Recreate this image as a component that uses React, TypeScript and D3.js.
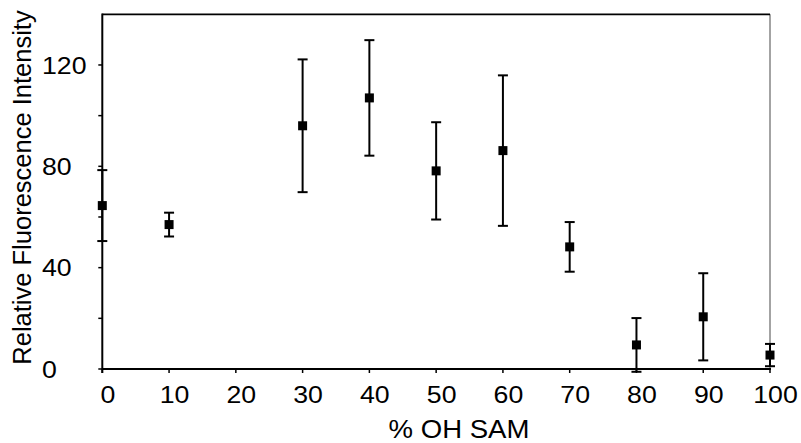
import React, { useRef, useEffect } from 'react';
import * as d3 from 'd3';

// % OH SAM values with mean fluorescence and error (half-width)
const ohPercent = [0, 10, 30, 40, 50, 60, 70, 80, 90, 100];
const intensity = [64.5, 57, 96, 107, 78.2, 86.2, 48.2, 9.5, 20.6, 5.5];
const errorBar = [14, 4.7, 26.2, 22.8, 19.2, 29.7, 9.8, 10.6, 17.2, 4.4];

const xTicks = [0, 10, 20, 30, 40, 50, 60, 70, 80, 90, 100];
const yMajorTicks = [0, 40, 80, 120];
const yMinorTicks = [20, 60, 100];

const width = 801;
const height = 443;
const margin = { top: 14.3, right: 31, bottom: 74, left: 102.3 };
const font = '"Liberation Sans", Arial, sans-serif';
// the source text is a little wider than plain Arial
const stretch = 1.09;

export default function App() {
    const svgRef = useRef<SVGSVGElement>(null);

    useEffect(() => {
        const svg = d3.select(svgRef.current);
        svg.selectAll('*').remove();

        const x = d3.scaleLinear()
            .domain([0, 100])
            .range([margin.left, width - margin.right]);

        const y = d3.scaleLinear()
            .domain([0, 140])
            .range([height - margin.bottom, margin.top]);

        const x0 = x(0), x1 = x(100), y0 = y(0), y1 = y(140);

        // y ticks (outside, on the left)
        svg.append('g')
            .selectAll('line')
            .data([...yMajorTicks, ...yMinorTicks])
            .join('line')
            .attr('x1', x0 - 4)
            .attr('x2', x0)
            .attr('y1', d => y(d))
            .attr('y2', d => y(d))
            .attr('stroke', 'black')
            .attr('stroke-width', 1.5);

        // x ticks (below the axis)
        svg.append('g')
            .selectAll('line')
            .data(xTicks)
            .join('line')
            .attr('x1', d => x(d))
            .attr('x2', d => x(d))
            .attr('y1', y0)
            .attr('y2', y0 + 4)
            .attr('stroke', 'black')
            .attr('stroke-width', 1.5);

        // frame: right side is gray, the rest black
        svg.append('line')
            .attr('x1', x1).attr('x2', x1)
            .attr('y1', y1).attr('y2', y0)
            .attr('stroke', '#8c8c8c').attr('stroke-width', 1.6);
        svg.append('line')
            .attr('x1', x0).attr('x2', x1)
            .attr('y1', y1).attr('y2', y1)
            .attr('stroke', 'black').attr('stroke-width', 1.8);
        svg.append('line')
            .attr('x1', x0).attr('x2', x0)
            .attr('y1', y1 - 0.9).attr('y2', y0 + 4)
            .attr('stroke', 'black').attr('stroke-width', 2);
        svg.append('line')
            .attr('x1', x0).attr('x2', x1 + 1)
            .attr('y1', y0).attr('y2', y0)
            .attr('stroke', 'black').attr('stroke-width', 2);

        // tick labels
        svg.append('g')
            .selectAll('text')
            .data(yMajorTicks)
            .join('text')
            .attr('transform', d => `translate(42,${y(d) + 8.8}) scale(${stretch},1)`)
            .attr('font-family', font)
            .attr('font-size', 24.5)
            .attr('fill', 'black')
            .text(d => d);

        svg.append('g')
            .selectAll('text')
            .data(xTicks)
            .join('text')
            .attr('transform', d => `translate(${x(d) + 5.5},403) scale(${stretch},1)`)
            .attr('text-anchor', 'middle')
            .attr('font-family', font)
            .attr('font-size', 24.5)
            .attr('fill', 'black')
            .text(d => d);

        // axis titles
        svg.append('text')
            .attr('transform', `translate(459,437.5) scale(1.06,1)`)
            .attr('text-anchor', 'middle')
            .attr('font-family', font)
            .attr('font-size', 26)
            .attr('fill', 'black')
            .text('% OH SAM');

        svg.append('text')
            .attr('transform', 'translate(31,187.5) rotate(-90)')
            .attr('text-anchor', 'middle')
            .attr('font-family', font)
            .attr('font-size', 25.5)
            .attr('fill', 'black')
            .text('Relative Fluorescence Intensity');

        const points = ohPercent.map((p, i) => ({ p, v: intensity[i], e: errorBar[i] }));

        // error bars
        const bars = svg.append('g')
            .attr('stroke', 'black')
            .attr('stroke-width', 2);
        bars.selectAll('line.stem')
            .data(points)
            .join('line')
            .attr('class', 'stem')
            .attr('x1', d => x(d.p)).attr('x2', d => x(d.p))
            .attr('y1', d => y(d.v - d.e)).attr('y2', d => y(d.v + d.e));
        bars.selectAll('line.cap-hi')
            .data(points)
            .join('line')
            .attr('class', 'cap-hi')
            .attr('x1', d => x(d.p) - 5).attr('x2', d => x(d.p) + 5)
            .attr('y1', d => y(d.v + d.e)).attr('y2', d => y(d.v + d.e));
        bars.selectAll('line.cap-lo')
            .data(points)
            .join('line')
            .attr('class', 'cap-lo')
            .attr('x1', d => x(d.p) - 5).attr('x2', d => x(d.p) + 5)
            .attr('y1', d => y(d.v - d.e)).attr('y2', d => y(d.v - d.e));

        // square markers
        svg.append('g')
            .selectAll('rect')
            .data(points)
            .join('rect')
            .attr('x', d => x(d.p) - 4.5)
            .attr('y', d => y(d.v) - 4.5)
            .attr('width', 9)
            .attr('height', 9)
            .attr('fill', 'black');
    }, []);

    return (
        <svg
            ref={svgRef}
            width={width}
            height={height}
            viewBox={`0 0 ${width} ${height}`}
            style={{ position: 'absolute', left: 0, top: 0, background: 'white', display: 'block' }}
        />
    );
}
